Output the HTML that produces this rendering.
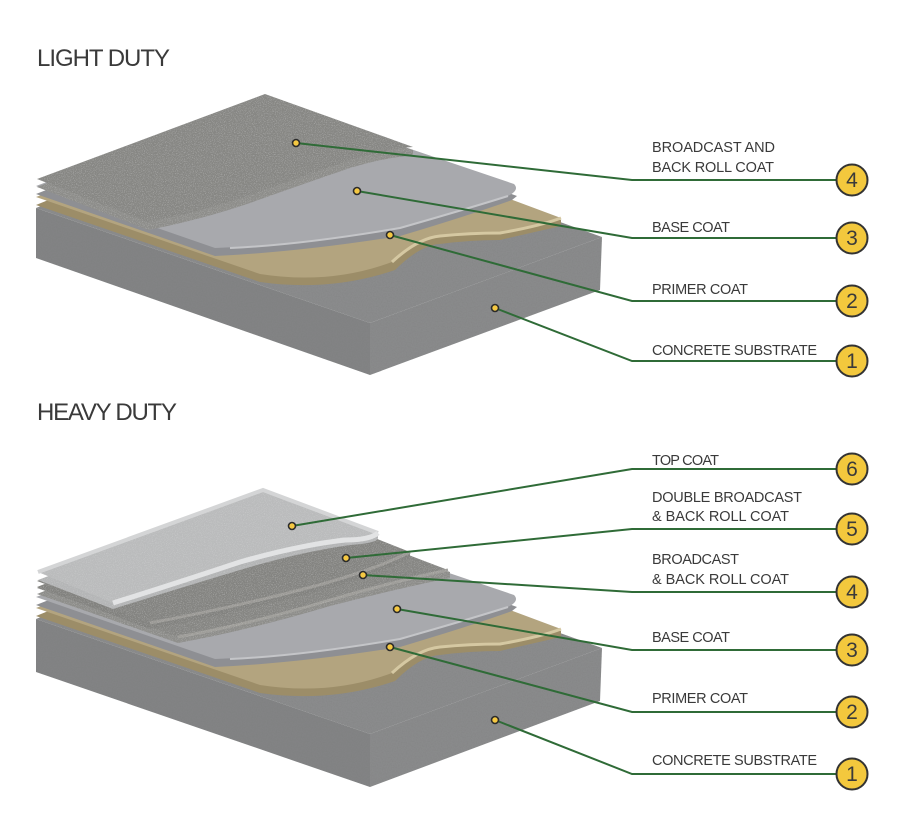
<!DOCTYPE html>
<html><head><meta charset="utf-8">
<style>
html,body{margin:0;padding:0;background:#fff;}
svg{display:block;}
text{font-family:"Liberation Sans",sans-serif;fill:#3a3a3a;}
</style></head>
<body>
<svg width="902" height="814" viewBox="0 0 902 814" xmlns="http://www.w3.org/2000/svg">
<defs>
<filter id="noise" x="0" y="0" width="100%" height="100%">
<feTurbulence type="fractalNoise" baseFrequency="0.8" numOctaves="2" seed="3" result="t"/>
<feColorMatrix in="t" type="matrix" values="0 0 0 0 0.2  0 0 0 0 0.2  0 0 0 0 0.2  0 0 0 0.7 -0.3" result="n"/>
<feComposite in="n" in2="SourceGraphic" operator="in" result="m"/>
<feMerge><feMergeNode in="SourceGraphic"/><feMergeNode in="m"/></feMerge>
</filter>
<filter id="speck" x="0" y="0" width="100%" height="100%">
<feTurbulence type="fractalNoise" baseFrequency="1.1" numOctaves="1" seed="7" result="t"/>
<feColorMatrix in="t" type="matrix" values="0 0 0 0 0.85  0 0 0 0 0.85  0 0 0 0 0.85  0 0 0 0.9 -0.45" result="n"/>
<feComposite in="n" in2="SourceGraphic" operator="in" result="m"/>
<feMerge><feMergeNode in="SourceGraphic"/><feMergeNode in="m"/></feMerge>
</filter>
</defs>

<text x="37" y="66" font-size="24" textLength="133">LIGHT DUTY</text>
<text x="37" y="420" font-size="24" textLength="140">HEAVY DUTY</text>

<!-- ===== LIGHT DUTY ===== -->
<g id="light">
<g filter="url(#noise)">
<polygon points="36,208 370,323 370,375 36,258" fill="#828384"/>
<polygon points="370,323 602,237 600,290 370,375" fill="#898a8b"/>
<polygon points="36,208 266,117 602,237 370,323" fill="#8a8b8c"/>
</g>
<!-- primer -->
<path d="M36,205 L260,282 Q330,292 395,270 Q420,245 440,244 Q470,240 500,240 L561,226 L561,220 L266,112 Z" fill="#9c8d68"/>
<path d="M36,197 L260,274 Q330,285 392,262 Q418,238 440,236 Q470,233 500,233 Q540,226 561,218 L266,108 Z" fill="#b3a47f"/>
<path d="M392,262 Q418,238 440,236 Q470,233 500,233 Q540,226 561,218" fill="none" stroke="#d5c8a2" stroke-width="3"/>
<!-- base coat -->
<path d="M36,194 L215,256 Q300,252 400,236 Q470,215 512,200 L517,196 L266,104 Z" fill="#8e8f93"/>
<path d="M36,186 L215,248 Q300,245 400,228 Q470,208 508,196 Q520,190 514,184 L266,100 Z" fill="#a8a9ad"/>
<path d="M230,248 Q300,245 400,228 Q470,208 508,196" fill="none" stroke="#c4c5c8" stroke-width="2"/>
<!-- broadcast top -->
<g filter="url(#speck)">
<path d="M37,187 L148,230 Q200,220 250,203 Q300,185 350,168 Q390,156 413,156 L413,150 L265,100 Z" fill="#8d8d8a"/>
<path d="M37,179 L265,94 L413,147 Q390,148 350,160 Q300,177 250,195 Q200,212 148,222 Z" fill="#878784"/>
</g>
</g>

<!-- ===== HEAVY DUTY ===== -->
<g id="heavy">
<g filter="url(#noise)">
<polygon points="36,619 370,734 370,787 36,672" fill="#828384"/>
<polygon points="370,734 602,648 600,701 370,787" fill="#898a8b"/>
<polygon points="36,619 266,528 602,648 370,734" fill="#8a8b8c"/>
</g>
<path d="M36,616 L260,693 Q330,703 395,681 Q420,656 440,655 Q470,651 500,651 L561,637 L561,631 L266,523 Z" fill="#9c8d68"/>
<path d="M36,608 L260,685 Q330,696 392,673 Q418,649 440,647 Q470,644 500,644 Q540,637 561,629 L266,519 Z" fill="#b3a47f"/>
<path d="M392,673 Q418,649 440,647 Q470,644 500,644 Q540,637 561,629" fill="none" stroke="#d5c8a2" stroke-width="3"/>
<path d="M36,605 L215,667 Q300,663 400,647 Q470,626 512,611 L517,607 L266,515 Z" fill="#8e8f93"/>
<path d="M36,597 L215,659 Q300,656 400,639 Q470,619 508,607 Q520,601 514,595 L266,511 Z" fill="#a8a9ad"/>
<path d="M230,659 Q300,656 400,639 Q470,619 508,607" fill="none" stroke="#c4c5c8" stroke-width="2"/>
<g filter="url(#speck)">
<path d="M37,594 L178,643 Q250,630 330,606 Q400,588 450,578 L450,572 L264,504 Z" fill="#8d8d8a"/>
<path d="M37,588 L178,637 Q250,624 330,600 Q400,580 448,570 L264,500 Z" fill="#868683"/>
<path d="M178,637 Q250,624 330,600 Q400,580 448,570" fill="none" stroke="#9e9d99" stroke-width="3"/>
<path d="M37,587 L150,629 Q230,614 300,596 Q370,578 410,558 L410,552 L264,498 Z" fill="#82827f"/>
<path d="M37,581 L150,623 Q230,608 300,590 Q370,572 410,552 L264,494 Z" fill="#848481"/>
<path d="M150,623 Q230,608 300,590 Q370,572 410,552" fill="none" stroke="#9b9a96" stroke-width="3"/>
<path d="M38,580 L113,609 Q180,588 240,570 Q300,552 350,545 Q378,543 378,538 L378,533 L263,495 Z" fill="#b4b5b6"/>
<path d="M38,572 L263,490 L378,533 Q370,540 345,540 Q300,545 240,562 Q180,582 113,603 Z" fill="#babbbc"/>
</g>
<path d="M38,572 L263,490 L378,533" fill="none" stroke="#d4d5d6" stroke-width="4"/>
<path d="M113,603 Q180,582 240,562 Q300,545 345,540 Q370,540 378,533" fill="none" stroke="#e2e3e4" stroke-width="5"/>
</g>

<g fill="none" stroke="#2f6b37" stroke-width="2">
<polyline points="296,143 632,180 836,180"/>
<polyline points="357,191 632,238 836,238"/>
<polyline points="390,235 632,301 836,301"/>
<polyline points="495,308 632,361 836,361"/>
<polyline points="292,526 632,469 836,469"/>
<polyline points="346,558 632,529 836,529"/>
<polyline points="363,575 632,592 836,592"/>
<polyline points="397,609 632,650 836,650"/>
<polyline points="390,647 632,712 836,712"/>
<polyline points="495,720 632,774 836,774"/>
</g>
<g fill="#f5c842" stroke="#2b2b2b" stroke-width="1.6">
<circle cx="296" cy="143" r="3.5"/><circle cx="357" cy="191" r="3.5"/>
<circle cx="390" cy="235" r="3.5"/><circle cx="495" cy="308" r="3.5"/>
<circle cx="292" cy="526" r="3.5"/><circle cx="346" cy="558" r="3.5"/>
<circle cx="363" cy="575" r="3.5"/><circle cx="397" cy="609" r="3.5"/>
<circle cx="390" cy="647" r="3.5"/><circle cx="495" cy="720" r="3.5"/>
</g>
<g fill="#f3c83d" stroke="#333" stroke-width="2">
<circle cx="852" cy="180" r="15.5"/><circle cx="852" cy="238" r="15.5"/>
<circle cx="852" cy="301" r="15.5"/><circle cx="852" cy="361" r="15.5"/>
<circle cx="852" cy="469" r="15.5"/><circle cx="852" cy="529" r="15.5"/>
<circle cx="852" cy="592" r="15.5"/><circle cx="852" cy="650" r="15.5"/>
<circle cx="852" cy="712" r="15.5"/><circle cx="852" cy="774" r="15.5"/>
</g>
<g font-size="21" text-anchor="middle" style="fill:#333">
<text x="852" y="187">4</text><text x="852" y="245">3</text>
<text x="852" y="308">2</text><text x="852" y="368">1</text>
<text x="852" y="476">6</text><text x="852" y="536">5</text>
<text x="852" y="599">4</text><text x="852" y="657">3</text>
<text x="852" y="719">2</text><text x="852" y="781">1</text>
</g>

<g font-size="14.5">
<text x="652" y="152" textLength="123">BROADCAST AND</text>
<text x="652" y="172" textLength="122">BACK ROLL COAT</text>
<text x="652" y="232" textLength="78">BASE COAT</text>
<text x="652" y="294" textLength="96">PRIMER COAT</text>
<text x="652" y="355" textLength="165">CONCRETE SUBSTRATE</text>
<text x="652" y="465" textLength="67">TOP COAT</text>
<text x="652" y="502" textLength="150">DOUBLE BROADCAST</text>
<text x="652" y="521" textLength="137">&amp; BACK ROLL COAT</text>
<text x="652" y="564" textLength="87">BROADCAST</text>
<text x="652" y="584" textLength="137">&amp; BACK ROLL COAT</text>
<text x="652" y="642" textLength="78">BASE COAT</text>
<text x="652" y="703" textLength="96">PRIMER COAT</text>
<text x="652" y="765" textLength="165">CONCRETE SUBSTRATE</text>
</g>
</svg>
</body></html>
